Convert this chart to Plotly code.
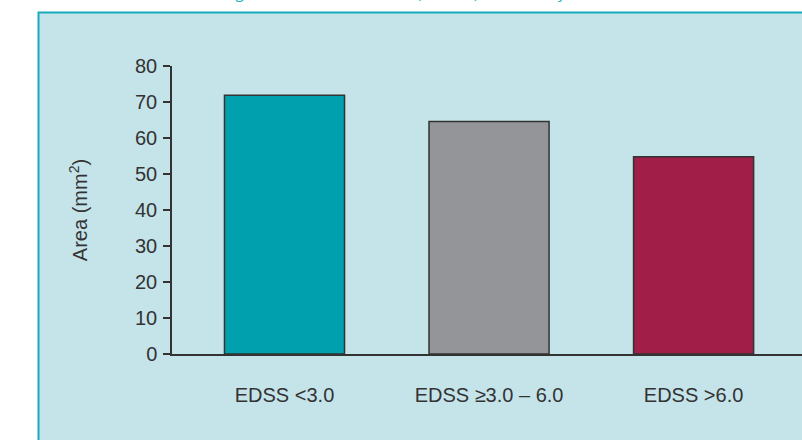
import plotly.graph_objects as go

categories = ["EDSS <3.0", "EDSS \u22653.0 \u2013 6.0", "EDSS >6.0"]
area_median = [71.9, 64.6, 54.8]
bar_colors = ["#00A0AE", "#939598", "#A01E48"]
y_ticks = [0, 10, 20, 30, 40, 50, 60, 70, 80]
title_text = "Figure 3: Cervical cord area (median) stratified by EDSS status"

W, H = 802, 440
ml, mr, mt, mb = 172, 0, 66, 86
pw, ph = W - ml - mr, H - mt - mb

def px_to_paper_x(px):
    return (px - ml) / pw

def px_to_paper_y(py):
    return (H - mb - py) / ph

fig = go.Figure()
fig.add_trace(go.Bar(
    x=categories,
    y=area_median,
    marker=dict(color=bar_colors, line=dict(color="#333333", width=1.5)),
    width=0.587,
    hoverinfo="x+y",
))

font_family = "Liberation Sans, Arial, Helvetica, sans-serif"

fig.update_layout(
    width=W, height=H,
    margin=dict(l=ml, r=mr, t=mt, b=mb, pad=0),
    paper_bgcolor="white",
    plot_bgcolor="rgba(0,0,0,0)",
    showlegend=False,
    font=dict(family=font_family, size=20, color="#333333"),
    xaxis=dict(
        range=[-0.55, 2.53],
        showline=True, linecolor="#333333", linewidth=1.5,
        ticks="", showgrid=False, zeroline=False,
        ticklabelstandoff=22,
        tickfont=dict(size=20, color="#333333"),
        fixedrange=True,
    ),
    yaxis=dict(
        range=[0, 80],
        tickvals=y_ticks,
        showline=True, linecolor="#333333", linewidth=1.5,
        ticks="outside", ticklen=7, tickwidth=1.5, tickcolor="#333333",
        ticklabelstandoff=2,
        showgrid=False, zeroline=False,
        tickfont=dict(size=20, color="#333333"),
        title=dict(text="Area (mm<sup>2</sup>)", standoff=42,
                   font=dict(size=20, color="#333333")),
        fixedrange=True,
    ),
    shapes=[dict(
        type="rect", xref="paper", yref="paper", layer="below",
        x0=px_to_paper_x(38.5), x1=px_to_paper_x(812),
        y0=px_to_paper_y(450), y1=px_to_paper_y(12.5),
        fillcolor="#C5E4EA",
        line=dict(color="#17AABD", width=2),
    )],
    annotations=[dict(
        text=title_text, xref="paper", yref="paper",
        x=px_to_paper_x(437), y=px_to_paper_y(4),
        xanchor="center", yanchor="bottom", showarrow=False,
        font=dict(size=15, color="#1AAFC2", family="Open Sans, sans-serif"),
    )],
)

fig.write_html(
    "out.html",
    config={"displayModeBar": False},
    post_script="document.body.style.margin='0';document.body.style.overflow='hidden';",
)
